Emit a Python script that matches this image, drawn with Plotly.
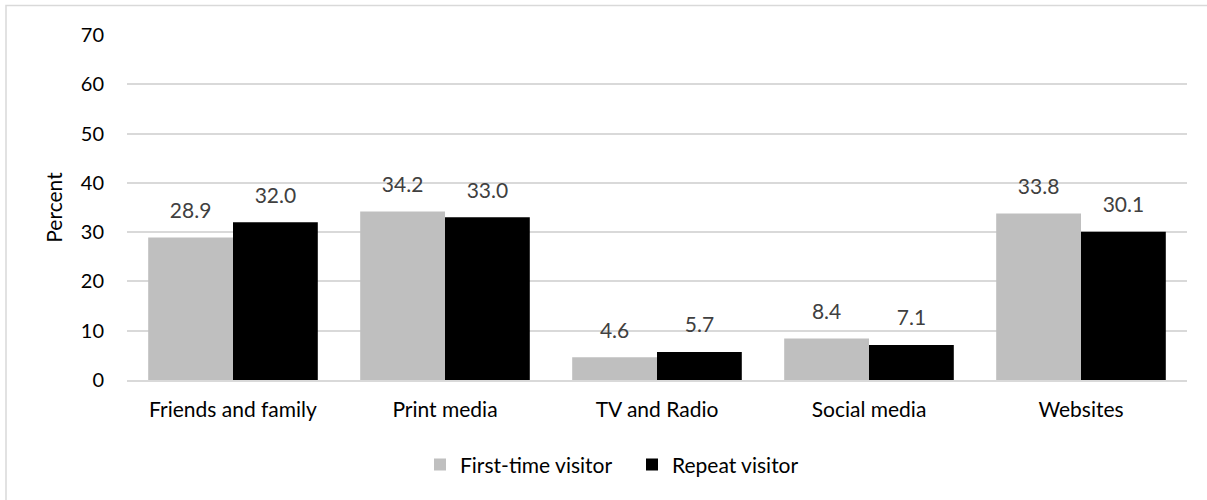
import plotly.graph_objects as go

categories = ["Friends and family", "Print media", "TV and Radio", "Social media", "Websites"]
first_time = [28.9, 34.2, 4.6, 8.4, 33.8]
repeat = [32.0, 33.0, 5.7, 7.1, 30.1]
y_ticks = [0, 10, 20, 30, 40, 50, 60, 70]

FONT = "Lato"


def labels(vals):
    return [f"<span style='font-size:21px'>{v:.1f}</span><br><span style='font-size:4px'> </span>"
            for v in vals]


fig = go.Figure()
fig.add_trace(go.Bar(x=categories, y=first_time, name="First-time visitor",
                     marker=dict(color="#BFBFBF", line=dict(width=0)),
                     text=labels(first_time), textposition="outside",
                     textfont=dict(color="#404040", size=12, family=FONT), cliponaxis=False))
fig.add_trace(go.Bar(x=categories, y=repeat, name="Repeat visitor",
                     marker=dict(color="#000000", line=dict(width=0)),
                     text=labels(repeat), textposition="outside",
                     textfont=dict(color="#404040", size=12, family=FONT), cliponaxis=False))

W, H = 1207, 500
L, R, T, B = 127, 20, 35, 120
pw, ph = W - L - R, H - T - B

fig.update_layout(
    width=W, height=H,
    margin=dict(l=L, r=R, t=T, b=B),
    paper_bgcolor="white", plot_bgcolor="white",
    barmode="group", bargap=0.2, bargroupgap=0,
    font=dict(family=FONT, size=20, color="#000000"),
    showlegend=True,
    uniformtext=dict(mode=False),
    legend=dict(orientation="h", x=(420 - L) / pw, xanchor="left", y=-0.246, yanchor="middle",
                font=dict(size=21, family=FONT), traceorder="normal",
                itemwidth=30, entrywidth=167, entrywidthmode="pixels"),
    xaxis=dict(showgrid=False, showline=True, linecolor="#D9D9D9", linewidth=1.5,
               ticks="", ticklabelstandoff=10, tickfont=dict(size=21, family=FONT)),
    yaxis=dict(range=[0, 70], tickvals=y_ticks, showgrid=True, gridcolor="#D9D9D9",
               gridwidth=1.5, zeroline=False, showline=False, ticks="",
               ticklen=0, ticklabelstandoff=22,
               title=dict(text="Percent", font=dict(size=21, family=FONT), standoff=12),
               tickfont=dict(size=20, family=FONT)),
    shapes=[dict(type="rect", xref="paper", yref="paper",
                 x0=(6 - L) / pw, x1=(1215 - L) / pw,
                 y0=(H - B - 510) / ph, y1=(H - B - 5.5) / ph,
                 line=dict(color="#D9D9D9", width=1.5), fillcolor="rgba(0,0,0,0)", layer="below")],
)
fig.write_html("out.html", config={"displayModeBar": False},
               post_script="document.body.style.margin='0';")
